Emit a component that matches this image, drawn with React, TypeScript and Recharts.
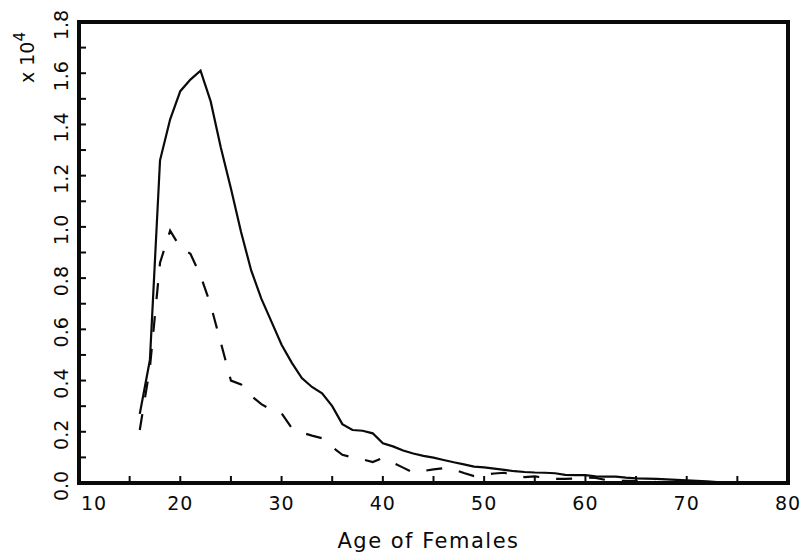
import React from 'react';
import { LineChart, Line, XAxis, YAxis, Label } from 'recharts';

// Age of females (years)
const ages = [16, 17, 18, 19, 20, 21, 22, 23, 24, 25, 26, 27, 28, 29, 30, 31, 32, 33, 34, 35, 36, 37, 38, 39, 40, 41, 42, 43, 44, 45, 46, 47, 48, 49, 50, 51, 52, 53, 54, 55, 56, 57, 58, 59, 60, 61, 62, 63, 64, 65, 66, 67, 68, 69, 70, 71, 72, 73, 74, 75];

// Solid series (units of 10^4)
const solidSeries = [0.27, 0.48, 1.26, 1.42, 1.53, 1.575, 1.61, 1.49, 1.31, 1.15, 0.98, 0.83, 0.72, 0.63, 0.54, 0.47, 0.41, 0.375, 0.35, 0.3, 0.23, 0.207, 0.204, 0.194, 0.155, 0.143, 0.127, 0.115, 0.106, 0.099, 0.09, 0.081, 0.073, 0.064, 0.061, 0.056, 0.051, 0.046, 0.043, 0.041, 0.04, 0.038, 0.032, 0.031, 0.031, 0.026, 0.025, 0.025, 0.021, 0.018, 0.017, 0.016, 0.014, 0.012, 0.01, 0.008, 0.006, 0.004, 0.002, 0.001];

// Dashed series (units of 10^4)
const dashedSeries = [0.207, 0.45, 0.86, 0.985, 0.92, 0.895, 0.81, 0.695, 0.548, 0.4, 0.385, 0.34, 0.308, 0.285, 0.272, 0.215, 0.197, 0.185, 0.175, 0.14, 0.11, 0.1, 0.092, 0.082, 0.098, 0.079, 0.06, 0.04, 0.047, 0.053, 0.058, 0.053, 0.039, 0.027, 0.032, 0.037, 0.04, 0.028, 0.023, 0.026, 0.02, 0.016, 0.016, 0.018, 0.021, 0.02, 0.012, 0.008, 0.008, 0.007, 0.005, 0.004, 0.003, 0.002, 0.002, 0.001, 0.001, 0.001, 0.001, 0.0];

const xMajorTicks = [10, 20, 30, 40, 50, 60, 70, 80];
const xMinorTicks = [15, 25, 35, 45, 55, 65, 75];
const yMajorTicks = [0, 0.2, 0.4, 0.6, 0.8, 1.0, 1.2, 1.4, 1.6, 1.8];
const yMinorTicks = [0.1, 0.3, 0.5, 0.7, 0.9, 1.1, 1.3, 1.5, 1.7];

const xLabel = 'Age of Females';
const yUnitLabel = 'x 10';
const yUnitExp = '4';

const data = ages.map((a, i) => ({ age: a, solid: solidSeries[i], dashed: dashedSeries[i] }));
const xTicks = [...xMajorTicks, ...xMinorTicks].sort((a, b) => a - b);
const yTicks = [...yMajorTicks, ...yMinorTicks].sort((a, b) => a - b);

// layout
const CHART_W = 805;
const CHART_H = 558;
const MARGIN = { top: 22, right: 17, bottom: 0, left: 0 };
const XAXIS_H = 75;
const YAXIS_W = 79;
const PLOT_W = CHART_W - MARGIN.left - MARGIN.right - YAXIS_W;
const PLOT_H = CHART_H - MARGIN.top - MARGIN.bottom - XAXIS_H;
const FRAME = 4;

const INK = '#0a0a0a';
const FONT = '"DejaVu Sans", sans-serif';
const TICK_LEN = 7;

const isMajor = (list: number[], v: number) => list.some((m) => Math.abs(m - v) < 1e-9);

// With a negative tickSize the tick props sit TICK_LEN inside the plot; labels are placed back outside.
const BottomLabel = (props: any) => {
  const { x, y, payload } = props;
  const v = payload.value;
  if (!isMajor(xMajorTicks, v)) return <g />;
  return (
    <text x={x + (v === xMajorTicks[0] ? 15 : 0)} y={y + TICK_LEN + 27} textAnchor="middle" fontSize={19} letterSpacing={1} fontFamily={FONT} fill={INK}>
      {v}
    </text>
  );
};

const LeftLabel = (props: any) => {
  const { x, y, payload } = props;
  const v = payload.value;
  if (!isMajor(yMajorTicks, v)) return <g />;
  const tx = x - TICK_LEN - 11;
  const ty = y + 3;
  return (
    <text x={tx} y={ty} transform={`rotate(-90, ${tx}, ${ty})`} textAnchor="middle" fontSize={19} fontFamily={FONT} fill={INK}>
      {v.toFixed(1)}
    </text>
  );
};

const NoLabel = () => <g />;

const XTitle = (props: any) => {
  const { viewBox } = props;
  const cx = viewBox.x + viewBox.width / 2 - 5;
  return (
    <text x={cx} y={viewBox.y + 65} textAnchor="middle" fontSize={21} letterSpacing={1.5} fontFamily={FONT} fill={INK}>
      {xLabel}
    </text>
  );
};

const YUnit = (props: any) => {
  const { viewBox } = props;
  const tx = viewBox.x + 34;
  const ty = viewBox.y + 61;
  return (
    <text x={tx} y={ty} transform={`rotate(-90, ${tx}, ${ty})`} textAnchor="start" fontSize={19} fontFamily={FONT} fill={INK}>
      {yUnitLabel}
      <tspan dy={-9} fontSize={15}>{yUnitExp}</tspan>
    </text>
  );
};

const axisLineStyle = { stroke: INK, strokeWidth: FRAME };
const tickLineStyle = { stroke: INK, strokeWidth: 2 };

export default function App() {
  return (
    <div style={{ position: 'absolute', left: 0, top: 0, width: CHART_W, height: CHART_H, background: 'white' }}>
      <LineChart width={CHART_W} height={CHART_H} data={data} margin={MARGIN}>
        <XAxis
          dataKey="age"
          type="number"
          domain={[10, 80]}
          ticks={xTicks}
          interval={0}
          height={XAXIS_H}
          tickSize={-TICK_LEN}
          tickMargin={0}
          tickLine={tickLineStyle}
          axisLine={axisLineStyle}
          tick={<BottomLabel />}
          allowDataOverflow
        >
          <Label content={<XTitle />} />
        </XAxis>
        <XAxis
          xAxisId="top"
          orientation="top"
          dataKey="age"
          type="number"
          domain={[10, 80]}
          ticks={xTicks}
          interval={0}
          height={0}
          tickSize={-TICK_LEN}
          tickMargin={0}
          tickLine={tickLineStyle}
          axisLine={axisLineStyle}
          tick={<NoLabel />}
          allowDataOverflow
        />
        <YAxis
          type="number"
          domain={[0, 1.8]}
          ticks={yTicks}
          interval={0}
          width={YAXIS_W}
          tickSize={-TICK_LEN}
          tickMargin={0}
          tickLine={tickLineStyle}
          axisLine={axisLineStyle}
          tick={<LeftLabel />}
          allowDataOverflow
        >
          <Label content={<YUnit />} />
        </YAxis>
        <YAxis
          yAxisId="right"
          orientation="right"
          type="number"
          domain={[0, 1.8]}
          ticks={yTicks}
          interval={0}
          width={0}
          tickSize={-TICK_LEN}
          tickMargin={0}
          tickLine={tickLineStyle}
          axisLine={axisLineStyle}
          tick={<NoLabel />}
          allowDataOverflow
        />
        <Line
          type="linear"
          dataKey="solid"
          stroke={INK}
          strokeWidth={2.2}
          dot={false}
          isAnimationActive={false}
        />
        <Line
          type="linear"
          dataKey="dashed"
          xAxisId="top"
          yAxisId="right"
          stroke={INK}
          strokeWidth={2.2}
          strokeDasharray="16 17"
          dot={false}
          isAnimationActive={false}
        />
      </LineChart>
      <div
        style={{
          position: 'absolute',
          left: MARGIN.left + YAXIS_W - FRAME / 2,
          top: MARGIN.top - FRAME / 2,
          width: PLOT_W + FRAME,
          height: PLOT_H + FRAME,
          border: `${FRAME}px solid ${INK}`,
          boxSizing: 'border-box',
          pointerEvents: 'none',
        }}
      />
    </div>
  );
}
